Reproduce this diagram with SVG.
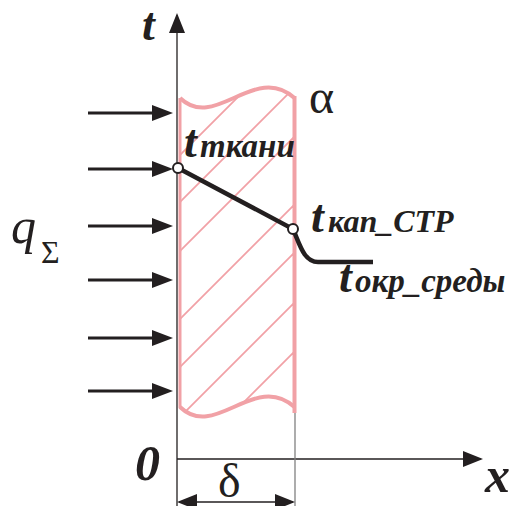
<svg xmlns="http://www.w3.org/2000/svg" width="512" height="506" viewBox="0 0 512 506">
<style>
.ink{stroke:#231f20;fill:none}
.thin{stroke-width:1.3}
.flux{stroke-width:3}
.pink{stroke:#f1a1a6;fill:none}
.edge{stroke-width:4}
.hatch{stroke-width:1.8}
.sbi{font-family:'Liberation Serif','DejaVu Serif',serif;font-weight:bold;font-style:italic;fill:#231f20}
.sr{font-family:'Liberation Serif','DejaVu Serif',serif;fill:#231f20}
.node{fill:#fff;stroke:#231f20;stroke-width:2}
</style>
<defs>
<marker id="fluxhead" viewBox="0 0 21 16" refX="11" refY="8" markerWidth="21" markerHeight="16" markerUnits="userSpaceOnUse" orient="auto"><path d="M0,0 L21,8 L0,16 Z" fill="#231f20"/></marker>
<marker id="axhead" viewBox="0 0 20 16" refX="18" refY="8" markerWidth="20" markerHeight="16" markerUnits="userSpaceOnUse" orient="auto-start-reverse"><path d="M0,0 L20,8 L0,16 Z" fill="#231f20"/></marker>
<clipPath id="slabclip"><path d="M181,98 C215,132 255,62 293,98 L293,407 C255,371 215,441 181,407 Z"/></clipPath>
</defs>

<g id="slab">
<g clip-path="url(#slabclip)" class="pink hatch">
<line x1="150" y1="185" x2="300" y2="35"/>
<line x1="150" y1="232" x2="300" y2="82"/>
<line x1="150" y1="281" x2="300" y2="131"/>
<line x1="150" y1="349" x2="300" y2="199"/>
<line x1="150" y1="397" x2="300" y2="247"/>
<line x1="150" y1="447" x2="300" y2="297"/>
<line x1="150" y1="496" x2="300" y2="346"/>
</g>
<path class="pink edge" d="M180,98 C215,132 255,62 294.5,98"/>
<path class="pink edge" d="M180,407 C215,441 255,371 294.5,407"/>
<line class="pink" stroke-width="3" x1="180" y1="98" x2="180" y2="408"/>
<line class="pink" stroke-width="4" x1="294.5" y1="96" x2="294.5" y2="413"/>
</g>

<g id="axes">
<line class="ink thin" x1="177" y1="506" x2="177" y2="15" marker-end="url(#axhead)"/>
<line class="ink thin" x1="177" y1="459" x2="481" y2="459" marker-end="url(#axhead)"/>
<line stroke="#808080" stroke-width="1.3" x1="295" y1="413" x2="295" y2="506"/>
<line class="ink thin" x1="179" y1="502" x2="293" y2="502" marker-start="url(#axhead)" marker-end="url(#axhead)"/>
</g>

<g id="heat-flux" class="ink flux">
<line x1="88" y1="113" x2="163" y2="113" marker-end="url(#fluxhead)"/>
<line x1="88" y1="169" x2="163" y2="169" marker-end="url(#fluxhead)"/>
<line x1="88" y1="226" x2="163" y2="226" marker-end="url(#fluxhead)"/>
<line x1="88" y1="280" x2="163" y2="280" marker-end="url(#fluxhead)"/>
<line x1="88" y1="338" x2="163" y2="338" marker-end="url(#fluxhead)"/>
<line x1="88" y1="391" x2="163" y2="391" marker-end="url(#fluxhead)"/>
</g>

<g id="profile">
<path class="ink" stroke-width="4.5" d="M178,168 L293,229 C300,245 304,262 318,262 L373,262"/>
<circle id="node-tissue" class="node" cx="178" cy="168" r="5"/>
<circle id="node-cap" class="node" cx="293" cy="229" r="5"/>
</g>

<g id="labels">
<text class="sbi" x="142" y="40" font-size="46">t</text>
<text class="sbi" x="135" y="480" font-size="50">0</text>
<text class="sbi" x="485" y="492" font-size="50">x</text>
<text class="sr" x="309" y="113" font-size="48">α</text>
<text class="sr" x="218" y="497" font-size="48">δ</text>
<text class="sr" x="11" y="243" font-size="50" font-style="italic">q</text>
<text class="sr" x="41" y="263" font-size="32">Σ</text>
<text class="sbi" x="184" y="157" font-size="46">t<tspan x="200" font-size="33">ткани</tspan></text>
<text class="sbi" x="311" y="232" font-size="46">t<tspan x="328" font-size="32">кап_СТР</tspan></text>
<text class="sbi" x="339" y="292" font-size="46">t<tspan x="355" font-size="33">окр_среды</tspan></text>
</g>
</svg>
